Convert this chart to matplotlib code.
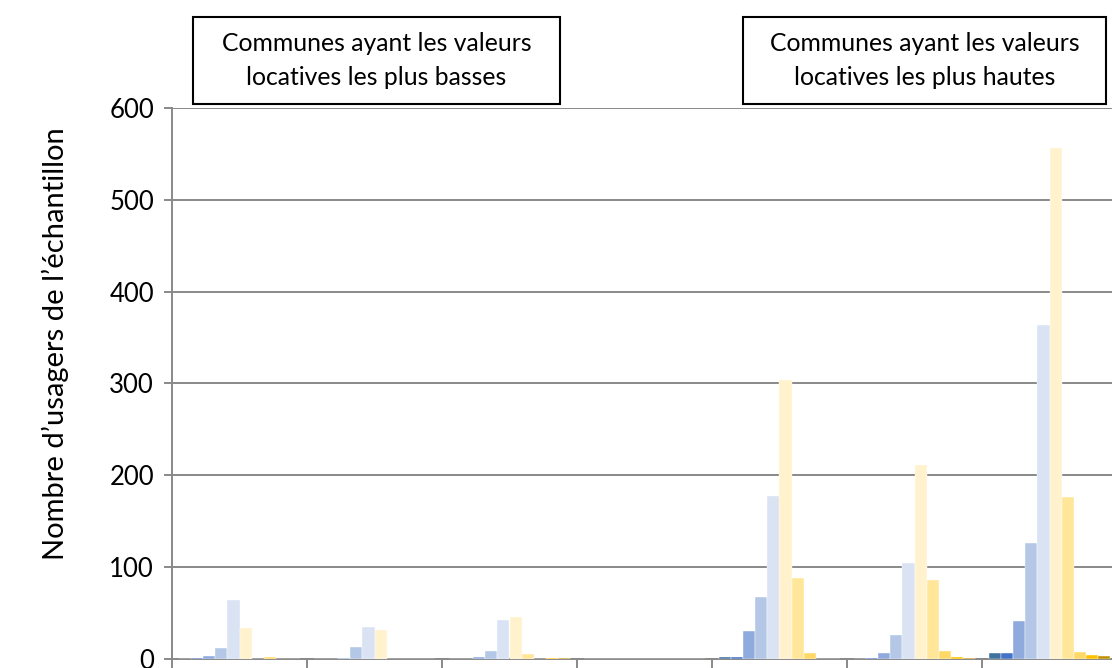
import numpy as np
import matplotlib
matplotlib.use("Agg")
import matplotlib.pyplot as plt
from matplotlib.patches import Rectangle

plt.rcParams['font.family'] = ['Lato', 'DejaVu Sans']

# 7 groupes de communes (libellés hors cadre), 10 séries par groupe
groups = ["G1", "G2", "G3", "G4", "G5", "G6", "G7"]
series_colors = ["#41719c", "#4472c4", "#8faadc", "#b4c7e7", "#dae3f3",
                 "#fff2cc", "#ffe699", "#ffd966", "#ffc000", "#bf9000"]

g1 = [0, 1.5, 3, 12, 64, 34, 0, 2.5, 0, 0]
g2 = [0.5, 0.5, 1, 13, 35, 32, 0.5, 0.5, 0, 0]
g3 = [0.5, 0.5, 2, 9, 43, 46, 5, 0, 0.7, 0.7]
g4 = [0, 0, 0, 0, 0, 0, 0, 0, 0, 0]
g5 = [2, 2, 30, 68, 177, 304, 88, 6, 0, 0.5]
g6 = [0, 1.5, 7, 26, 105, 211, 86, 9, 2, 1]
g7 = [6, 7, 41, 126, 364, 556, 176, 8, 4, 3]

values = np.array([g1, g2, g3, g4, g5, g6, g7])

yticks = [0, 100, 200, 300, 400, 500, 600]
box_left_text = "Communes ayant les valeurs\nlocatives les plus basses"
box_right_text = "Communes ayant les valeurs\nlocatives les plus hautes"
ylabel = "Nombre d\u2019usagers de l\u2019\u00e9chantillon"

W, H = 1112, 668
fig = plt.figure(figsize=(W / 100, H / 100), dpi=100)
ax = fig.add_axes([172 / W, 9 / H, (1117 - 172) / W, (659 - 108) / H])

n_series = values.shape[1]
bw = 12 / 134.8
x = np.arange(len(groups))
for j in range(n_series):
    ax.bar(x + (j - (n_series - 1) / 2) * bw, values[:, j], width=bw,
           color=series_colors[j], edgecolor="white", linewidth=0.3, zorder=3)

grid_c = "#898989"
ax.set_xlim(-0.5, len(groups) - 0.5)
ax.set_ylim(0, 600)
ax.set_yticks(yticks)
ax.set_xticks(np.arange(len(groups) + 1) - 0.5)
ax.set_xticklabels([])
ax.yaxis.grid(True, color=grid_c, linewidth=1.4, zorder=0)
ax.set_axisbelow(True)
for s in ["top", "right"]:
    ax.spines[s].set_visible(False)
for s in ["left", "bottom"]:
    ax.spines[s].set_color(grid_c)
    ax.spines[s].set_linewidth(1.4)
ax.tick_params(axis="y", direction="out", length=6, width=1.4, color=grid_c,
               labelsize=18.5, pad=7)
ax.tick_params(axis="x", direction="out", length=8, width=1.4, color=grid_c)

fig.text(55 / W, 1 - 344 / H, ylabel, rotation=90, ha="center", va="center",
         fontsize=21)

for (x0, x1, y0, y1, txt) in [(193, 560, 17, 104, box_left_text),
                              (743, 1106, 17, 104, box_right_text)]:
    fig.patches.append(Rectangle((x0 / W, 1 - y1 / H), (x1 - x0) / W, (y1 - y0) / H,
                                 transform=fig.transFigure, facecolor="white",
                                 edgecolor="black", linewidth=1.5, zorder=5))
    fig.text((x0 + x1) / 2 / W, 1 - (y0 + y1) / 2 / H, txt, ha="center",
             va="center", fontsize=17.8, linespacing=1.55, zorder=6)

fig.savefig("out.png", dpi=100)
